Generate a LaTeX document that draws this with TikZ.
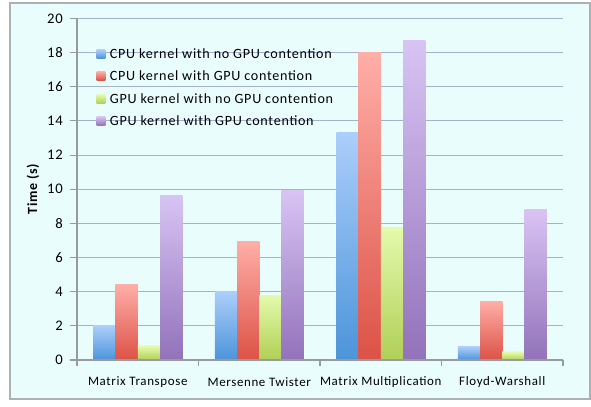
\documentclass[tikz,border=0pt]{standalone}
\usepackage{fontspec}
\setmainfont[LetterSpace=5]{Carlito}
\usetikzlibrary{positioning}
\definecolor{panelbg}{RGB}{234,253,253}
\definecolor{panelframe}{RGB}{172,178,180}
\definecolor{gridc}{RGB}{166,177,205}
\definecolor{axisc}{RGB}{150,155,160}
\definecolor{cpuA}{RGB}{172,206,250}
\definecolor{cpuAd}{RGB}{76,148,218}
\definecolor{cpuB}{RGB}{255,174,168}
\definecolor{cpuBd}{RGB}{220,82,70}
\definecolor{gpuA}{RGB}{228,250,172}
\definecolor{gpuAd}{RGB}{176,207,86}
\definecolor{gpuB}{RGB}{216,196,243}
\definecolor{gpuBd}{RGB}{146,114,186}
\tikzset{
  gridline/.style={gridc, line width=0.8pt},
  axisline/.style={axisc, line width=0.8pt},
  ticklabel/.style={anchor=east, inner sep=0pt, font=\fontsize{11}{13}\selectfont},
  catlabel/.style={inner sep=0pt, font=\fontsize{9.7}{11}\selectfont},
  legtext/.style={inner sep=0pt, anchor=west, font=\fontsize{10.6}{13}\selectfont},
  legkey/.style={minimum size=6.6pt, inner sep=0pt},
  cpuidle/.style={top color=cpuA, bottom color=cpuAd},
  cpubusy/.style={top color=cpuB, bottom color=cpuBd},
  gpuidle/.style={top color=gpuA, bottom color=gpuAd},
  gpubusy/.style={top color=gpuB, bottom color=gpuBd},
}

\begin{document}
\begin{tikzpicture}[x=0.75pt, y=0.75pt]
  \useasboundingbox (-77,-46) rectangle (514,360);
  \draw[panelframe, fill=panelbg, line width=0.8pt] (-67,-39) rectangle (513,357);

  % value grid and y ticks
  \foreach \v in {2,4,...,20}
    \draw[gridline] (0,{\v*17.08}) -- (486,{\v*17.08});
  \foreach \v in {0,2,...,20} {
    \draw[axisline] (-7,{\v*17.08}) -- (0,{\v*17.08});
    \node[ticklabel] (tick\v) at (-14,{\v*17.08}) {\v};
  }
  \node[rotate=90, font=\bfseries\fontsize{10.5}{12}\selectfont] (ylab) at (-44,171) {Time (s)};

  % bars, one group per benchmark
  \foreach \cat/\va/\vb/\vc/\vd [count=\i] in
    {Matrix Transpose/2.0/4.4/0.82/9.65,
     Mersenne Twister/4.0/6.95/3.8/9.9,
     Matrix Multiplication/13.3/18.0/7.73/18.73,
     Floyd-Warshall/0.78/3.45/0.47/8.84} {
    \pgfmathsetmacro\cx{(\i-0.5)*121.5}
    \path[cpuidle] ({\cx-44.5},0) rectangle ({\cx-22.25},{\va*17.08});
    \path[cpubusy] ({\cx-22.25},0) rectangle ({\cx},{\vb*17.08});
    \path[gpuidle] ({\cx},0) rectangle ({\cx+22.25},{\vc*17.08});
    \path[gpubusy] ({\cx+22.25},0) rectangle ({\cx+44.5},{\vd*17.08});
    \node[catlabel] (cat\i) at (\cx,-22) {\cat};
  }

  % axes
  \draw[axisline] (0,0) -- (0,{20*17.08});
  \draw[axisline] (0,0) -- (486,0);
  \foreach \k in {0,1,...,4}
    \draw[axisline] ({\k*121.5},0) -- ({\k*121.5},-6);

  % legend
  \node[legkey, cpuidle] (key1) at (24,306) {};
  \node[legkey, cpubusy] (key2) at (24,284) {};
  \node[legkey, gpuidle] (key3) at (24,261) {};
  \node[legkey, gpubusy] (key4) at (24,239) {};
  \node[legtext, right=3pt of key1] (leg1) {CPU kernel with no GPU contention};
  \node[legtext, right=3pt of key2] (leg2) {CPU kernel with GPU contention};
  \node[legtext, right=3pt of key3] (leg3) {GPU kernel with no GPU contention};
  \node[legtext, right=3pt of key4] (leg4) {GPU kernel with GPU contention};
\end{tikzpicture}
\end{document}
